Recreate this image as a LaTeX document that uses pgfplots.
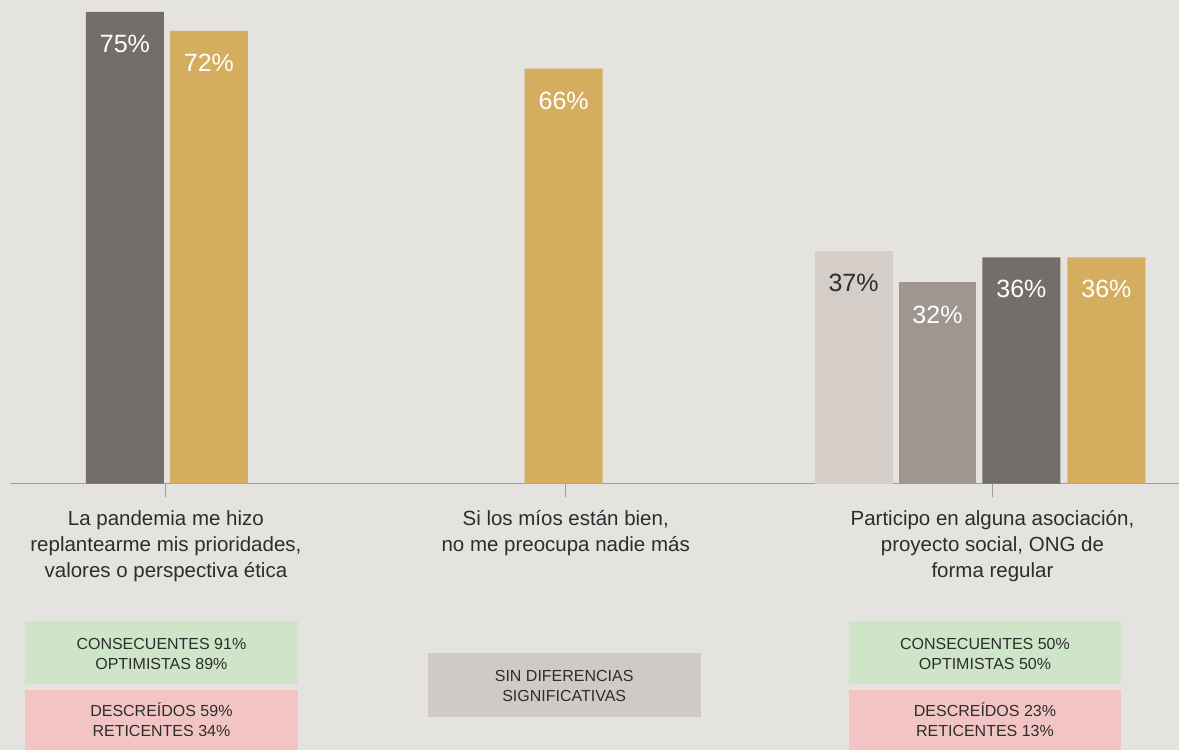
\documentclass[border=0pt]{standalone}
\usepackage{fontspec}
\setmainfont{Liberation Sans}
\usepackage{pgfplots}
\pgfplotsset{compat=1.18}

\definecolor{bgc}{HTML}{E5E3DF}
\definecolor{darkc}{HTML}{736E69}
\definecolor{goldc}{HTML}{D4AD5F}
\definecolor{lightc}{HTML}{D5CDC8}
\definecolor{midc}{HTML}{9F9690}
\definecolor{axisc}{HTML}{A39B95}
\definecolor{txtc}{HTML}{2D2D2D}
\definecolor{greenc}{HTML}{CFE5C8}
\definecolor{pinkc}{HTML}{F2C5C4}
\definecolor{greyc}{HTML}{CFCAC8}

\begin{document}
\begin{tikzpicture}[x=1bp,y=1bp]
\fill[bgc] (0,0) rectangle (1180,750);

\begin{axis}[
  at={(10bp,266bp)}, anchor=south west,
  width=1170bp, height=484bp, scale only axis,
  xmin=10, xmax=1180, ymin=0, ymax=76.9,
  axis x line=bottom, axis y line=none,
  x axis line style={-, draw=axisc, line width=1.3bp},
  xtick={166,566,993},
  xticklabels={
    {La pandemia me hizo\\replantearme mis prioridades,\\valores o perspectiva ética},
    {Si los míos están bien,\\no me preocupa nadie más},
    {Participo en alguna asociación,\\proyecto social, ONG de\\forma regular}},
  xticklabel style={align=center, text=txtc, font=\fontsize{20.5bp}{26bp}\selectfont, yshift=-10bp},
  tick align=outside, major tick length=13bp,
  xtick style={draw=axisc, line width=1bp},
  ytick=\empty,
  ybar, bar width=78,
  clip=false,
  /pgf/number format/assume math mode=true,
  nodes near coords={\pgfmathprintnumber{\pgfplotspointmeta}\%},
  every node near coord/.append style={anchor=north, inner sep=0pt, yshift=-23bp,
    font=\fontsize{25bp}{30bp}\selectfont, text=white},
]
\addplot[fill=darkc, draw=none, bar shift=0pt] coordinates {(125,75) (1022,36)};
\addplot[fill=goldc, draw=none, bar shift=0pt] coordinates {(209,72) (564,66) (1107,36)};
\addplot[fill=lightc, draw=none, bar shift=0pt,
  every node near coord/.append style={text=txtc}] coordinates {(854,37)};
\addplot[fill=midc, draw=none, bar shift=0pt] coordinates {(938,32)};
\end{axis}

\begin{scope}[every node/.style={align=center, text=txtc, font=\fontsize{16bp}{20bp}\selectfont}]
\fill[greenc] (25,66) rectangle (298,129);
\node at (161.5,96) {CONSECUENTES 91\%\\OPTIMISTAS 89\%};
\fill[pinkc] (25,0) rectangle (298,60);
\node at (161.5,30) {DESCREÍDOS 59\%\\RETICENTES 34\%};

\fill[greyc] (428,33) rectangle (701,97);
\node at (564.5,64) {SIN DIFERENCIAS\\SIGNIFICATIVAS};

\fill[greenc] (849,66) rectangle (1122,129);
\node at (985.5,96) {CONSECUENTES 50\%\\OPTIMISTAS 50\%};
\fill[pinkc] (849,0) rectangle (1122,60);
\node at (985.5,30) {DESCREÍDOS 23\%\\RETICENTES 13\%};
\end{scope}
\end{tikzpicture}
\end{document}
